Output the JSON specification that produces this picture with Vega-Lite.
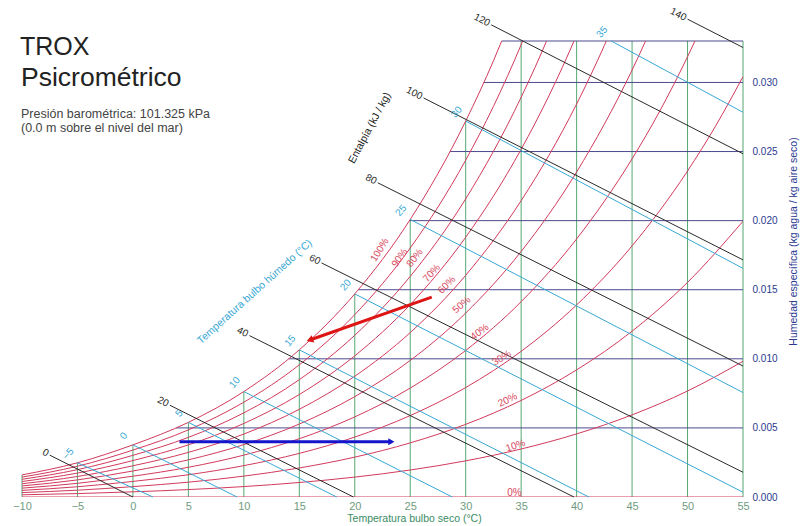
{
  "$schema": "https://vega.github.io/schema/vega-lite/v6.json",
  "width": 721,
  "height": 456,
  "autosize": {"type": "none"},
  "padding": {"left": 22, "top": 41, "right": 67, "bottom": 29},
  "background": "white",
  "config": {"font": "Liberation Sans", "view": {"stroke": null}},
  "datasets": {
    "dryBulb": [
      {"t": -10, "w": 0.0016}, {"t": -5, "w": 0.002476}, {"t": 0, "w": 0.003774},
      {"t": 5, "w": 0.005402}, {"t": 10, "w": 0.007631}, {"t": 15, "w": 0.01065},
      {"t": 20, "w": 0.014698}, {"t": 25, "w": 0.020086}, {"t": 30, "w": 0.027207},
      {"t": 35, "w": 0.033}, {"t": 40, "w": 0.033}, {"t": 45, "w": 0.033},
      {"t": 50, "w": 0.033}, {"t": 55, "w": 0.033}
    ],
    "humidity": [
      {"t": 3.9, "w": 0.005}, {"t": 14.04, "w": 0.010}, {"t": 20.33, "w": 0.015},
      {"t": 24.96, "w": 0.020}, {"t": 28.59, "w": 0.025}, {"t": 31.63, "w": 0.030},
      {"t": 33.25, "w": 0.033}
    ],
    "rhCurves": [
      {"rh": 0, "t": -10, "w": 0}, {"rh": 0, "t": 55, "w": 0},
      {"rh": 10, "t": -10, "w": 0.00016}, {"rh": 10, "t": -5, "w": 0.000247}, {"rh": 10, "t": 0, "w": 0.000375},
      {"rh": 10, "t": 5, "w": 0.000536}, {"rh": 10, "t": 10, "w": 0.000755}, {"rh": 10, "t": 15, "w": 0.001049},
      {"rh": 10, "t": 20, "w": 0.00144}, {"rh": 10, "t": 25, "w": 0.001952}, {"rh": 10, "t": 30, "w": 0.002617},
      {"rh": 10, "t": 35, "w": 0.003474}, {"rh": 10, "t": 40, "w": 0.004566}, {"rh": 10, "t": 45, "w": 0.005943},
      {"rh": 10, "t": 50, "w": 0.00767}, {"rh": 10, "t": 55, "w": 0.009822},
      {"rh": 20, "t": -10, "w": 0.00032}, {"rh": 20, "t": -5, "w": 0.000494}, {"rh": 20, "t": 0, "w": 0.000751},
      {"rh": 20, "t": 5, "w": 0.001073}, {"rh": 20, "t": 10, "w": 0.001511}, {"rh": 20, "t": 15, "w": 0.002101},
      {"rh": 20, "t": 20, "w": 0.002885}, {"rh": 20, "t": 25, "w": 0.003916}, {"rh": 20, "t": 30, "w": 0.005257},
      {"rh": 20, "t": 35, "w": 0.006988}, {"rh": 20, "t": 40, "w": 0.009199}, {"rh": 20, "t": 45, "w": 0.012},
      {"rh": 20, "t": 50, "w": 0.015532}, {"rh": 20, "t": 55, "w": 0.019958},
      {"rh": 30, "t": -10, "w": 0.00048}, {"rh": 30, "t": -5, "w": 0.000741}, {"rh": 30, "t": 0, "w": 0.001128},
      {"rh": 30, "t": 5, "w": 0.001611}, {"rh": 30, "t": 10, "w": 0.00227}, {"rh": 30, "t": 15, "w": 0.003157},
      {"rh": 30, "t": 20, "w": 0.004338}, {"rh": 30, "t": 25, "w": 0.005892}, {"rh": 30, "t": 30, "w": 0.00792},
      {"rh": 30, "t": 35, "w": 0.010541}, {"rh": 30, "t": 40, "w": 0.013902}, {"rh": 30, "t": 45, "w": 0.018175},
      {"rh": 30, "t": 50, "w": 0.023593}, {"rh": 30, "t": 52.5, "w": 0.026807}, {"rh": 30, "t": 55, "w": 0.030425},
      {"rh": 40, "t": -10, "w": 0.00064}, {"rh": 40, "t": -5, "w": 0.000989}, {"rh": 40, "t": 0, "w": 0.001504},
      {"rh": 40, "t": 5, "w": 0.00215}, {"rh": 40, "t": 10, "w": 0.00303}, {"rh": 40, "t": 15, "w": 0.004217},
      {"rh": 40, "t": 20, "w": 0.005797}, {"rh": 40, "t": 25, "w": 0.007882}, {"rh": 40, "t": 30, "w": 0.010605},
      {"rh": 40, "t": 35, "w": 0.014135}, {"rh": 40, "t": 40, "w": 0.018675}, {"rh": 40, "t": 45, "w": 0.024472},
      {"rh": 40, "t": 47.5, "w": 0.027933}, {"rh": 40, "t": 50, "w": 0.03186}, {"rh": 40, "t": 52.5, "w": 0.036263},
      {"rh": 50, "t": -10, "w": 0.0008}, {"rh": 50, "t": -5, "w": 0.001236}, {"rh": 50, "t": 0, "w": 0.001882},
      {"rh": 50, "t": 5, "w": 0.002689}, {"rh": 50, "t": 10, "w": 0.003792}, {"rh": 50, "t": 15, "w": 0.00528},
      {"rh": 50, "t": 20, "w": 0.007263}, {"rh": 50, "t": 25, "w": 0.009883}, {"rh": 50, "t": 30, "w": 0.013312},
      {"rh": 50, "t": 35, "w": 0.017769}, {"rh": 50, "t": 40, "w": 0.02352}, {"rh": 50, "t": 45, "w": 0.030894},
      {"rh": 50, "t": 47.5, "w": 0.035313},
      {"rh": 60, "t": -10, "w": 0.00096}, {"rh": 60, "t": -5, "w": 0.001484}, {"rh": 60, "t": 0, "w": 0.002259},
      {"rh": 60, "t": 5, "w": 0.00323}, {"rh": 60, "t": 10, "w": 0.004556}, {"rh": 60, "t": 15, "w": 0.006346},
      {"rh": 60, "t": 20, "w": 0.008736}, {"rh": 60, "t": 25, "w": 0.011898}, {"rh": 60, "t": 30, "w": 0.016044},
      {"rh": 60, "t": 35, "w": 0.021446}, {"rh": 60, "t": 40, "w": 0.02844}, {"rh": 60, "t": 42.5, "w": 0.032673},
      {"rh": 60, "t": 45, "w": 0.037444},
      {"rh": 70, "t": -10, "w": 0.00112}, {"rh": 70, "t": -5, "w": 0.001731}, {"rh": 70, "t": 0, "w": 0.002637},
      {"rh": 70, "t": 5, "w": 0.003772}, {"rh": 70, "t": 10, "w": 0.005322}, {"rh": 70, "t": 15, "w": 0.007417},
      {"rh": 70, "t": 20, "w": 0.010216}, {"rh": 70, "t": 25, "w": 0.013925}, {"rh": 70, "t": 30, "w": 0.018798},
      {"rh": 70, "t": 35, "w": 0.025164}, {"rh": 70, "t": 37.5, "w": 0.029027}, {"rh": 70, "t": 40, "w": 0.033434},
      {"rh": 70, "t": 42.5, "w": 0.038455},
      {"rh": 80, "t": -10, "w": 0.00128}, {"rh": 80, "t": -5, "w": 0.001979}, {"rh": 80, "t": 0, "w": 0.003016},
      {"rh": 80, "t": 5, "w": 0.004314}, {"rh": 80, "t": 10, "w": 0.00609}, {"rh": 80, "t": 15, "w": 0.008491},
      {"rh": 80, "t": 20, "w": 0.011703}, {"rh": 80, "t": 25, "w": 0.015965}, {"rh": 80, "t": 30, "w": 0.021577},
      {"rh": 80, "t": 35, "w": 0.028927}, {"rh": 80, "t": 37.5, "w": 0.033396}, {"rh": 80, "t": 40, "w": 0.038506},
      {"rh": 90, "t": -10, "w": 0.00144}, {"rh": 90, "t": -5, "w": 0.002227}, {"rh": 90, "t": 0, "w": 0.003395},
      {"rh": 90, "t": 5, "w": 0.004858}, {"rh": 90, "t": 10, "w": 0.00686}, {"rh": 90, "t": 15, "w": 0.009568},
      {"rh": 90, "t": 20, "w": 0.013197}, {"rh": 90, "t": 25, "w": 0.018019}, {"rh": 90, "t": 30, "w": 0.02438},
      {"rh": 90, "t": 32.5, "w": 0.028264}, {"rh": 90, "t": 35, "w": 0.032733}, {"rh": 90, "t": 37.5, "w": 0.037824},
      {"rh": 100, "t": -10, "w": 0.0016}, {"rh": 100, "t": -5, "w": 0.002476}, {"rh": 100, "t": 0, "w": 0.003774},
      {"rh": 100, "t": 5, "w": 0.005402}, {"rh": 100, "t": 10, "w": 0.007631}, {"rh": 100, "t": 15, "w": 0.01065},
      {"rh": 100, "t": 20, "w": 0.014698}, {"rh": 100, "t": 25, "w": 0.020086}, {"rh": 100, "t": 30, "w": 0.027207},
      {"rh": 100, "t": 32.5, "w": 0.031563}, {"rh": 100, "t": 35, "w": 0.036584}
    ],
    "rhLabels": [
      {"rh": 100, "label": "100%", "t": 22.25, "w": 0.01788},
      {"rh": 90, "label": "90%", "t": 24.05, "w": 0.0173},
      {"rh": 80, "label": "80%", "t": 25.41, "w": 0.0173},
      {"rh": 70, "label": "70%", "t": 26.94, "w": 0.01621},
      {"rh": 60, "label": "60%", "t": 28.29, "w": 0.01534},
      {"rh": 50, "label": "50%", "t": 29.64, "w": 0.0139},
      {"rh": 40, "label": "40%", "t": 31.26, "w": 0.01194},
      {"rh": 30, "label": "30%", "t": 33.24, "w": 0.01006},
      {"rh": 20, "label": "20%", "t": 33.78, "w": 0.00702},
      {"rh": 10, "label": "10%", "t": 34.5, "w": 0.0037},
      {"rh": 0, "label": "0%", "t": 34.4, "w": 0.00029}
    ],
    "wetBulb": [
      {"twb": -5, "t": -5, "w": 0.002476, "t2": 1.8, "w2": 0},
      {"twb": 0, "t": 0, "w": 0.003774, "t2": 9.38, "w2": 0},
      {"twb": 5, "t": 5, "w": 0.005402, "t2": 18.37, "w2": 0},
      {"twb": 10, "t": 10, "w": 0.007631, "t2": 28.79, "w2": 0},
      {"twb": 15, "t": 15, "w": 0.01065, "t2": 41.1, "w2": 0},
      {"twb": 20, "t": 20, "w": 0.014698, "t2": 55, "w2": 0.000344},
      {"twb": 25, "t": 25, "w": 0.020086, "t2": 55, "w2": 0.007559},
      {"twb": 30, "t": 30, "w": 0.027207, "t2": 55, "w2": 0.016546},
      {"twb": 35, "t": 43.12, "w": 0.033, "t2": 55, "w2": 0.02784}
    ],
    "enthalpy": [
      {"h": 0, "t": -7.5, "w": 0.00303, "t2": 0, "w2": 0},
      {"h": 20, "t": 3.33, "w": 0.00664, "t2": 19.88, "w2": 0},
      {"h": 40, "t": 10.5, "w": 0.01168, "t2": 39.76, "w2": 0},
      {"h": 60, "t": 17.0, "w": 0.01694, "t2": 55, "w2": 0.00179},
      {"h": 80, "t": 22.07, "w": 0.02274, "t2": 55, "w2": 0.009477},
      {"h": 100, "t": 26.2, "w": 0.02888, "t2": 55, "w2": 0.01716},
      {"h": 120, "t": 32.3, "w": 0.03417, "t2": 55, "w2": 0.02484},
      {"h": 140, "t": 50.0, "w": 0.03458, "t2": 55, "w2": 0.03253}
    ],
    "coolingProcess": [
      {"t": 26.94, "w": 0.01447, "point": "start"},
      {"t": 15.95, "w": 0.01136, "point": "end"}
    ],
    "heatingProcess": [
      {"t": 4.2, "w": 0.004, "point": "start"},
      {"t": 23.3, "w": 0.004, "point": "end"}
    ]
  },
  "layer": [
    {
      "data": {"name": "dryBulb"},
      "mark": {"type": "rule", "color": "#55a873", "strokeWidth": 1},
      "encoding": {
        "x": {
          "field": "t", "type": "quantitative",
          "scale": {"domain": [-10, 55], "nice": false, "zero": false},
          "axis": {
            "values": [-10, -5, 0, 5, 10, 15, 20, 25, 30, 35, 40, 45, 50, 55],
            "domain": false, "ticks": false, "grid": false, "labelFlush": false,
            "labelColor": "#6f9c80", "labelFontSize": 11, "labelPadding": 3,
            "title": "Temperatura bulbo seco (°C)", "titleColor": "#3a8c64",
            "titleFontSize": 10.5, "titleFontWeight": "normal", "titlePadding": 2, "titleX": 392
          }
        },
        "y": {
          "field": "w", "type": "quantitative",
          "scale": {"domain": [0, 0.033], "nice": false, "zero": false},
          "axis": {
            "orient": "right",
            "values": [0, 0.005, 0.01, 0.015, 0.02, 0.025, 0.03], "format": ".3f",
            "domain": false, "ticks": false, "grid": false, "labelFlush": false,
            "labelColor": "#2b3990", "labelFontSize": 10, "labelPadding": 9,
            "title": "Humedad específica (kg agua / kg aire seco)", "titleColor": "#2b3990",
            "titleFontSize": 10.5, "titleFontWeight": "normal", "titleAngle": 270,
            "titleY": 200, "titlePadding": 21
          }
        },
        "y2": {"datum": 0}
      }
    },
    {
      "data": {"name": "humidity"},
      "mark": {"type": "rule", "color": "#4d4a8e", "strokeWidth": 1},
      "encoding": {
        "x": {"field": "t", "type": "quantitative"},
        "y": {"field": "w", "type": "quantitative"},
        "x2": {"datum": 55}
      }
    },
    {
      "data": {"name": "rhCurves"},
      "mark": {"type": "line", "color": "#d23a5c", "strokeWidth": 1, "clip": true, "interpolate": "monotone"},
      "encoding": {
        "x": {"field": "t", "type": "quantitative"},
        "y": {"field": "w", "type": "quantitative"},
        "detail": {"field": "rh", "type": "nominal"}
      }
    },
    {
      "data": {"name": "wetBulb"},
      "mark": {"type": "rule", "color": "#38a8d4", "strokeWidth": 1},
      "encoding": {
        "x": {"field": "t", "type": "quantitative"},
        "y": {"field": "w", "type": "quantitative"},
        "x2": {"field": "t2"},
        "y2": {"field": "w2"}
      }
    },
    {
      "data": {"name": "enthalpy"},
      "mark": {"type": "rule", "color": "#2a2a2a", "strokeWidth": 1},
      "encoding": {
        "x": {"field": "t", "type": "quantitative"},
        "y": {"field": "w", "type": "quantitative"},
        "x2": {"field": "t2"},
        "y2": {"field": "w2"}
      }
    },
    {
      "data": {"name": "wetBulb"},
      "mark": {"type": "text", "color": "#38a8d4", "fontSize": 10, "angle": 310, "align": "center", "baseline": "middle", "dx": 1, "dy": -12.7},
      "encoding": {
        "x": {"field": "t", "type": "quantitative"},
        "y": {"field": "w", "type": "quantitative"},
        "text": {"field": "twb", "type": "quantitative"}
      }
    },
    {
      "data": {"name": "enthalpy"},
      "mark": {"type": "text", "color": "#2a2a2a", "fontSize": 10, "angle": 27, "align": "right", "baseline": "middle", "dx": -2},
      "encoding": {
        "x": {"field": "t", "type": "quantitative"},
        "y": {"field": "w", "type": "quantitative"},
        "text": {"field": "h", "type": "quantitative"}
      }
    },
    {
      "data": {"name": "rhLabels"},
      "mark": {"type": "text", "color": "#d8485e", "fontSize": 10, "align": "center", "baseline": "middle"},
      "encoding": {
        "x": {"field": "t", "type": "quantitative"},
        "y": {"field": "w", "type": "quantitative"},
        "text": {"field": "label"},
        "angle": {"field": "rh", "type": "quantitative", "scale": {"type": "sqrt", "domain": [0, 100], "range": [360, 302]}, "legend": null}
      }
    },
    {
      "data": {"name": "coolingProcess"},
      "mark": {"type": "line", "color": "#dd1515", "strokeWidth": 3},
      "encoding": {
        "x": {"field": "t", "type": "quantitative"},
        "y": {"field": "w", "type": "quantitative"}
      }
    },
    {
      "data": {"name": "coolingProcess"},
      "transform": [{"filter": "datum.point === 'end'"}],
      "mark": {"type": "point", "shape": "triangle-left", "filled": true, "opacity": 1, "color": "#dd1515", "size": 60, "angle": 341},
      "encoding": {
        "x": {"field": "t", "type": "quantitative"},
        "y": {"field": "w", "type": "quantitative"}
      }
    },
    {
      "data": {"name": "heatingProcess"},
      "mark": {"type": "line", "color": "#1414cc", "strokeWidth": 3},
      "encoding": {
        "x": {"field": "t", "type": "quantitative"},
        "y": {"field": "w", "type": "quantitative"}
      }
    },
    {
      "data": {"name": "heatingProcess"},
      "transform": [{"filter": "datum.point === 'end'"}],
      "mark": {"type": "point", "shape": "triangle-right", "filled": true, "opacity": 1, "color": "#1414cc", "size": 50},
      "encoding": {
        "x": {"field": "t", "type": "quantitative"},
        "y": {"field": "w", "type": "quantitative"}
      }
    },
    {
      "data": {"values": [{}]},
      "mark": {"type": "text", "text": "TROX", "align": "left", "baseline": "alphabetic", "fontSize": 25, "color": "#222222", "dx": -2},
      "encoding": {"x": {"datum": -10}, "y": {"datum": 0.03199}}
    },
    {
      "data": {"values": [{}]},
      "mark": {"type": "text", "text": "Psicrométrico", "align": "left", "baseline": "alphabetic", "fontSize": 26.5, "color": "#222222", "dx": -1},
      "encoding": {"x": {"datum": -10}, "y": {"datum": 0.02974}}
    },
    {
      "data": {"values": [{}]},
      "mark": {"type": "text", "text": ["Presión barométrica: 101.325 kPa", "(0.0 m sobre el nivel del mar)"], "align": "left", "baseline": "alphabetic", "fontSize": 12.5, "lineHeight": 14, "color": "#444444", "dx": -1},
      "encoding": {"x": {"datum": -10}, "y": {"datum": 0.02743}}
    },
    {
      "data": {"values": [{}]},
      "mark": {"type": "text", "text": "Entalpía (kJ / kg)", "align": "center", "baseline": "middle", "fontSize": 10.5, "angle": 298, "color": "#222222"},
      "encoding": {"x": {"datum": 21.35}, "y": {"datum": 0.0267}}
    },
    {
      "data": {"values": [{}]},
      "mark": {"type": "text", "text": "Temperatura bulbo húmedo (°C)", "align": "center", "baseline": "middle", "fontSize": 10.5, "angle": 318, "color": "#38a8d4"},
      "encoding": {"x": {"datum": 10.99}, "y": {"datum": 0.01484}}
    }
  ]
}
